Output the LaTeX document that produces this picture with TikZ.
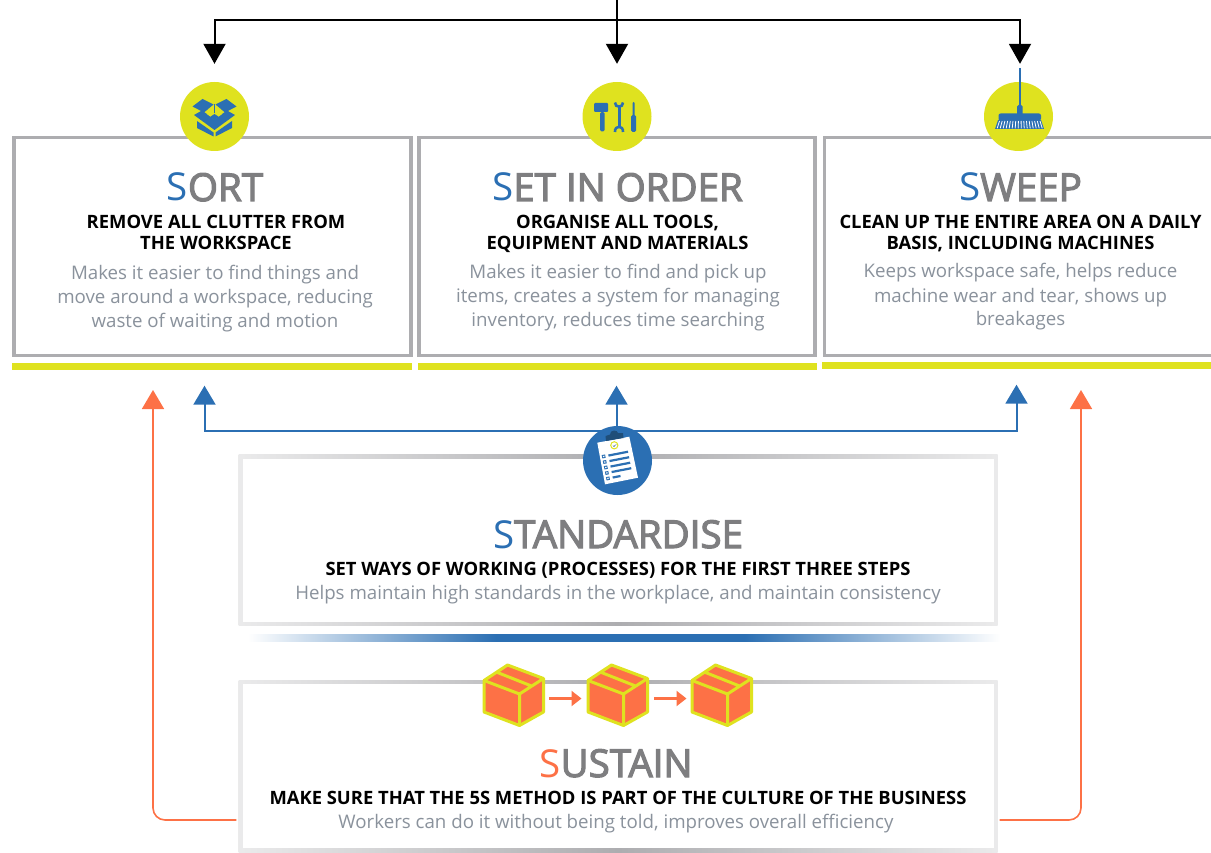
\documentclass[tikz,border=0pt]{standalone}
\usepackage{fontspec}
\setmainfont{Open Sans}
\newfontfamily\semi{Open Sans}[FakeBold=3]
\usetikzlibrary{arrows.meta,shadings,calc}
\definecolor{lime}{HTML}{DFE21F}
\definecolor{bl}{HTML}{2B6FB3}
\definecolor{dbl}{HTML}{1F4E79}
\definecolor{org}{HTML}{FD7146}
\definecolor{gbox}{HTML}{ADADB0}
\definecolor{ttl}{HTML}{7E7E80}
\definecolor{dsc}{HTML}{8A929C}
\pgfdeclarehorizontalshading{fadebar}{100bp}{color(0bp)=(white); color(25bp)=(white); color(41.5bp)=(bl); color(58bp)=(bl); color(75bp)=(white); color(100bp)=(white)}
\pgfdeclarehorizontalshading{edgefade}{100bp}{color(0bp)=(gbox!25); color(25bp)=(gbox!25); color(50bp)=(gbox); color(75bp)=(gbox!25); color(100bp)=(gbox!25)}
\tikzset{
 panel/.style={draw=gbox,line width=3.5pt,fill=white,inner sep=0pt,minimum height=218pt},
 lframe/.style={shading=edgefade,inner sep=0pt,minimum width=759pt},
 linner/.style={fill=white,inner sep=0pt,minimum width=751pt},
 bar/.style={fill=lime,inner sep=0pt,minimum height=7pt},
 icon/.style={circle,fill=lime,inner sep=0pt,minimum size=69pt},
 title/.style={font=\fontsize{38.5}{38.5}\semi,text=ttl,inner sep=0pt,anchor=base},
 sub/.style={font=\fontsize{18.4}{21}\bfseries,text=black,align=center,inner sep=0pt,anchor=base},
 desc/.style={font=\fontsize{18.7}{24}\selectfont,text=dsc,align=center,inner sep=0pt,anchor=base},
 blk/.style={draw=black,line width=2pt},
 blka/.style={blk,-{Triangle[width=22pt,length=20pt]}},
 blu/.style={draw=bl,line width=2pt},
 blua/.style={blu,-{Triangle[width=22pt,length=19pt]}},
 ora/.style={draw=org,line width=1.6pt,rounded corners=12pt,-{Triangle[width=22pt,length=19pt]}},
 sma/.style={draw=org,line width=2.2pt,-{Triangle[width=15pt,length=10pt]}},
 cube/.pic={
  \fill[org] (-23.5,-13) -- (0,-28.5) -- (36,-15) -- (36,18.5) -- (12,32) -- (-23.5,18.5) -- cycle;
  \draw[lime,line width=3pt,line join=round] (-23.5,-13) -- (0,-28.5) -- (36,-15) -- (36,18.5) -- (12,32) -- (-23.5,18.5) -- cycle;
  \draw[lime,line width=3pt,line join=round] (-23.5,-13) -- (12,0.5) -- (36,-15) (12,0.5) -- (12,32) (-10,-21) -- (24,-7.5);
 }
}
\newcommand{\Sb}{{\fontsize{38.5}{38.5}\selectfont\rmfamily\textcolor{bl}{S}}}
\newcommand{\So}{{\fontsize{38.5}{38.5}\selectfont\rmfamily\textcolor{org}{S}}}
\begin{document}
\begin{tikzpicture}[x=1pt,y=-1pt]
\clip (0,0) rectangle (1211,853);
% panels
\node[panel,minimum width=397pt] (sort) at (212.5,246.5) {};
\node[panel,minimum width=396pt] (set) at (617,246.5) {};
\node[panel,minimum width=398pt] (sweep) at (1023.5,246.5) {};
\node[bar,minimum width=400pt] (barsort) at (212,366.5) {};
\node[bar,minimum width=399pt] (barset) at (617.5,366.5) {};
\node[bar,minimum width=389pt] (barsweep) at (1016.5,365.5) {};
\node[lframe,minimum height=171pt] (std) at (618,540) {};
\node[linner,minimum height=163pt] (stdin) at (618,540) {};
\node[lframe,minimum height=172pt] (sus) at (618,766) {};
\node[linner,minimum height=164pt] (susin) at (618,766) {};
% gradient rule
\node[shading=fadebar,inner sep=0pt,minimum width=752pt,minimum height=7pt] (rule) at (624,638) {};
% top connectors
\coordinate (topin) at (617,0);
\coordinate (bus) at (617,20);
\node[icon] (isort) at (214.5,116.5) {};
\node[icon] (iset) at (617,116.5) {};
\node[icon] (isweep) at (1018.5,116.5) {};
\draw[blk] (topin) -- (bus);
\draw[blka,shorten >=18pt] (bus) -| (isort.north);
\draw[blka,shorten >=18pt] (bus) -- (iset.north);
\draw[blka,shorten >=18pt] (bus) -| ([xshift=1.5pt]isweep.north);
% blue connectors
\coordinate (bbus) at (616.5,431);
\draw[blua,shorten >=15.5pt] (bbus) -| ([xshift=-7.5pt]barsort.south);
\draw[blua,shorten >=15.5pt] (bbus) -- ([xshift=-1pt]barset.south);
\draw[blua,shorten >=15.5pt] (bbus) -| (barsweep.south);
\node[circle,fill=bl,inner sep=0pt,minimum size=69pt] (istd) at (617.5,460.5) {};
% orange connectors
\coordinate (ol) at (153,390);
\coordinate (or) at (1081,390);
\draw[ora,shorten <=2pt] (sus.west |- 0,820) -- (153,820) -- (ol);
\draw[ora,shorten <=2pt] (sus.east |- 0,820) -- (1081,820) -- (or);
% sort icon
\begin{scope}[bl]
\fill (192.5,106.5) -- (202.5,99) -- (213.5,104.5) -- (204,112.5) -- cycle;
\fill (236.5,106.5) -- (226.5,99) -- (215.5,104.5) -- (225,112.5) -- cycle;
\fill (194,115) -- (202,110.5) -- (214.5,119.5) -- (227,110.5) -- (235,115) -- (214.5,130) -- cycle;
\fill[lime] (207,114) -- (214.5,108.5) -- (222,114) -- (214.5,120) -- cycle;
\fill (214.5,114) -- (219,117) -- (214.5,120.5) -- (210,117) -- cycle;
\fill (197,121) -- (213.5,132.5) -- (213.5,136.5) -- (197,128) -- cycle;
\fill (232,121) -- (215.5,132.5) -- (215.5,136.5) -- (232,128) -- cycle;
\draw[line width=1pt] (214.5,104) -- (214.5,113);
\end{scope}
% tools icon
\begin{scope}[bl]
\fill[rounded corners=1pt] (594,103) rectangle (608,112);
\fill[rounded corners=1.5pt] (600,112) rectangle (604.5,131.5);
\draw[line width=3pt] (619,107) -- (619,127);
\draw[line width=2.6pt] (615,102.5) .. controls (614.5,108) and (623.5,108) .. (623,102.5);
\draw[line width=2.6pt] (615,132) .. controls (614.5,125) and (623.5,125) .. (623,132);
\fill[rounded corners=1pt] (632.5,102) rectangle (634.5,116);
\fill[rounded corners=1.5pt] (631,115) rectangle (636,132);
\end{scope}
% broom icon
\begin{scope}[bl]
\fill (1018.5,68) rectangle (1020.5,110);
\fill[rounded corners=1.5pt] (1017,105) rectangle (1022.5,116);
\fill[rounded corners=2pt] (998.5,113.5) rectangle (1041,120.5);
\fill (998,120) -- (1041,120) -- (1044,129) -- (995,129) -- cycle;
\foreach \i in {0,...,15} {\draw[white,line width=.8pt] (999.5+2.7*\i,121) -- (997.2+3*\i,128.3);}
\end{scope}
% clipboard icon
\fill[white] (597.3,442.7) -- (629.3,436.7) -- (638,477.7) -- (605,484.3) -- cycle;
\fill[dbl] (606,441) -- (605.5,436) -- (610,434.5) .. controls (610,429) and (618,430) .. (618,433) -- (623,433) -- (623.5,438) -- cycle;
\draw[lime,fill=white,line width=1pt] (614.3,445.3) circle (3.6);
\fill[dbl] (612.5,445.5) -- (614,447) -- (616.5,444) -- (614,446) -- cycle;
\begin{scope}[shift={(603.5,456.5)},rotate=11]
\foreach \i in {0,...,4} {
 \fill[bl] (-1.5,\i*5.6-1.7) rectangle (1.9,\i*5.6+1.7);
 \fill[white] (-.5,\i*5.6-.6) rectangle (.9,\i*5.6+.6);
}
\fill[bl] (5,-1.1) rectangle (25,1.1);
\fill[bl] (5,4.5) rectangle (25,6.7);
\fill[bl] (5,10.1) rectangle (25,12.3);
\fill[bl] (5,15.7) rectangle (25,17.9);
\fill[bl] (5,21.3) rectangle (13,23.5);
\end{scope}
% cubes
\coordinate (c1) at (507.5,693.5);
\coordinate (c2) at (611.5,693.5);
\coordinate (c3) at (715.5,693.5);
\pic at (c1) {cube};
\pic at (c2) {cube};
\pic at (c3) {cube};
\draw[sma,shorten <=41.5pt,shorten >=30pt] ($(c1)+(0,5)$) -- ($(c2)+(0,5)$);
\draw[sma,shorten <=42.5pt,shorten >=29pt] ($(c2)+(0,5)$) -- ($(c3)+(0,5)$);
% text
\node[title] (t1) at (215,201) {\Sb ORT};
\node[sub] (s1) at (216,249.5) {REMOVE ALL CLUTTER FROM\\THE WORKSPACE};
\node[desc] (d1) at (215,327.5) {Makes it easier to find things and\\move around a workspace, reducing\\waste of waiting and motion};
\node[title] (t2) at (617.5,201) {\Sb ET IN ORDER};
\node[sub] (s2) at (617.5,249.5) {ORGANISE ALL TOOLS,\\EQUIPMENT AND MATERIALS};
\node[desc] (d2) at (618,326.5) {Makes it easier to find and pick up\\items, creates a system for managing\\inventory, reduces time searching};
\node[title] (t3) at (1020.5,201) {\Sb WEEP};
\node[sub] (s3) at (1020.5,249.5) {CLEAN UP THE ENTIRE AREA ON A DAILY\\BASIS, INCLUDING MACHINES};
\node[desc] (d3) at (1020.5,326) {Keeps workspace safe, helps reduce\\machine wear and tear, shows up\\breakages};
\node[title] (t4) at (618,548) {\Sb TANDARDISE};
\node[sub] (s4) at (618,575.5) {SET WAYS OF WORKING (PROCESSES) FOR THE FIRST THREE STEPS};
\node[desc] (d4) at (618,599.5) {Helps maintain high standards in the workplace, and maintain consistency};
\node[title] (t5) at (616,777) {\So USTAIN};
\node[sub] (s5) at (618,804) {MAKE SURE THAT THE 5S METHOD IS PART OF THE CULTURE OF THE BUSINESS};
\node[desc] (d5) at (616,828.5) {Workers can do it without being told, improves overall efficiency};
\end{tikzpicture}
\end{document}
